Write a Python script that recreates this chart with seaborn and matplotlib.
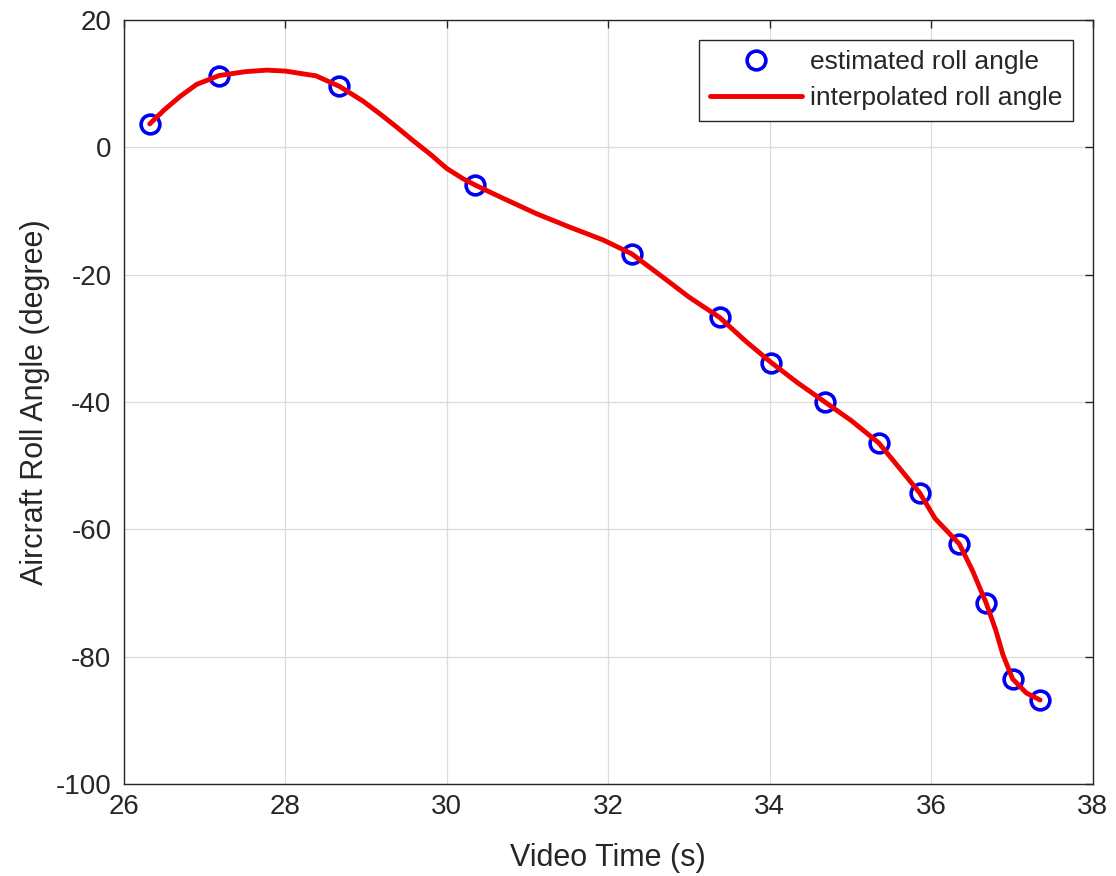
import matplotlib
matplotlib.use("Agg")
import matplotlib.pyplot as plt
import seaborn as sns
import pandas as pd

# estimated roll angle samples
est_time = [26.32, 27.18, 28.67, 30.35, 32.29, 33.38, 34.02, 34.68, 35.35, 35.86, 36.35, 36.68, 37.01, 37.35]
est_angle = [3.7, 11.3, 9.6, -5.9, -16.7, -26.7, -33.8, -39.95, -46.4, -54.3, -62.3, -71.5, -83.5, -86.8]

# interpolated roll angle curve
curve_time = [26.32, 26.5, 26.69, 26.9, 27.18, 27.5, 27.77, 28.0, 28.38, 28.67, 28.96, 29.17, 29.38,
              29.58, 29.79, 30.0, 30.2, 30.35, 30.7, 31.11, 31.52, 31.94, 32.29, 32.7, 33.0, 33.38,
              33.7, 34.02, 34.35, 34.68, 35.01, 35.35, 35.61, 35.86, 36.05, 36.35, 36.51, 36.68,
              36.8, 36.89, 37.01, 37.18, 37.35]
curve_angle = [3.7, 5.9, 7.95, 9.9, 11.3, 11.9, 12.15, 12.0, 11.25, 9.6, 7.3, 5.3, 3.2,
               1.1, -1.0, -3.3, -4.9, -5.9, -8.0, -10.4, -12.5, -14.55, -16.7, -20.6, -23.5, -26.7,
               -30.4, -33.8, -37.0, -39.95, -42.9, -46.4, -50.4, -54.3, -58.3, -62.3, -66.4, -71.5,
               -75.8, -79.7, -83.5, -85.7, -86.8]

x_ticks = [26, 28, 30, 32, 34, 36, 38]
y_ticks = [-100, -80, -60, -40, -20, 0, 20]

sns.set_style("whitegrid")
plt.rcParams["font.family"] = ["Liberation Sans", "DejaVu Sans"]

fig = plt.figure(figsize=(11.16, 8.76), dpi=100)
ax = fig.add_axes([0.111, 0.105, 0.868, 0.872])

est_df = pd.DataFrame({"t": est_time, "a": est_angle})
cur_df = pd.DataFrame({"t": curve_time, "a": curve_angle})

sns.lineplot(data=est_df, x="t", y="a", ax=ax, linestyle="none", marker="o",
             markersize=13.5, markerfacecolor="none", markeredgecolor=(0, 0, 0.95),
             markeredgewidth=2.6, label="estimated roll angle", zorder=3)
sns.lineplot(data=cur_df, x="t", y="a", ax=ax, sort=False, color=(0.95, 0, 0),
             linewidth=3.5, label="interpolated roll angle", zorder=4)

ax.set_xlim(26, 38)
ax.set_ylim(-100, 20)
ax.set_xticks(x_ticks)
ax.set_yticks(y_ticks)
ax.set_xticklabels([str(v) for v in x_ticks])
ax.set_yticklabels([str(v) for v in y_ticks])
ax.tick_params(axis="both", which="both", direction="in", length=6, width=1,
               labelsize=20, colors="#262626", top=True, right=True)
ax.tick_params(axis="y", pad=9)
ax.tick_params(axis="x", pad=7)
ax.grid(True, color="#dcdcdc", linewidth=0.9)
for s in ax.spines.values():
    s.set_color("#262626")
    s.set_linewidth(1.0)
    s.set_visible(True)

ax.set_xlabel("Video Time (s)", fontsize=22, color="#262626", labelpad=17)
ax.set_ylabel("Aircraft Roll Angle (degree)", fontsize=22, color="#262626", labelpad=4)

leg = ax.legend(loc="upper right", fontsize=19, frameon=True, fancybox=False,
                edgecolor="#262626", framealpha=1, borderaxespad=0.75,
                handlelength=3.5, handletextpad=0.3, borderpad=0.4, labelspacing=0.45)
leg.get_frame().set_linewidth(1.0)

fig.savefig("out.png", dpi=100)
